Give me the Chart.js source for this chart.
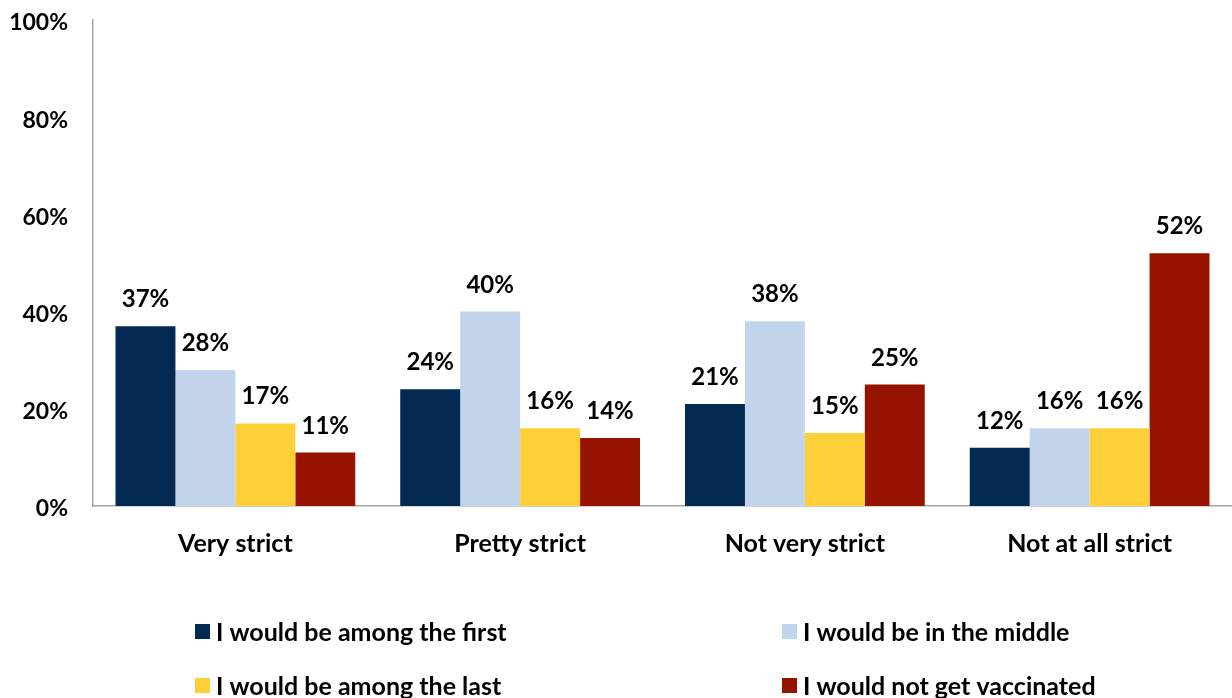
<!DOCTYPE html>
<html>
<head>
<meta charset="utf-8">
<title>Vaccination intent by strictness</title>
<script src="https://cdn.jsdelivr.net/npm/chart.js@4/dist/chart.umd.min.js"></script>
<style>
  html, body { margin: 0; padding: 0; background: #fff; }
  #wrap { width: 1232px; height: 698px; position: relative; }
</style>
</head>
<body>
<div id="wrap"><canvas id="chart"></canvas></div>
<script>
// --- data ---
const categories = ['Very strict', 'Pretty strict', 'Not very strict', 'Not at all strict'];
const seriesNames = [
  'I would be among the first',
  'I would be in the middle',
  'I would be among the last',
  'I would not get vaccinated'
];
const amongFirst = [37, 24, 21, 12];
const inMiddle = [28, 40, 38, 16];
const amongLast = [17, 16, 15, 16];
const notVaccinated = [11, 14, 25, 52];
const yTicks = [0, 20, 40, 60, 80, 100];

const colors = ['#022a52', '#c2d4ec', '#fecf36', '#961300'];
const FONT = 'Lato, "Open Sans", sans-serif';

// value labels above each bar
const barLabels = {
  id: 'barLabels',
  afterDatasetsDraw(chart) {
    const ctx = chart.ctx;
    ctx.save();
    ctx.font = 'bold 24px ' + FONT;
    ctx.fillStyle = '#000';
    ctx.textAlign = 'center';
    ctx.textBaseline = 'alphabetic';
    chart.data.datasets.forEach((ds, i) => {
      chart.getDatasetMeta(i).data.forEach((bar, j) => {
        ctx.fillText(ds.data[j] + '%', bar.x, bar.y - 19);
      });
    });
    ctx.restore();
  }
};

// two-column legend under the axis
const gridLegend = {
  id: 'gridLegend',
  afterDraw(chart) {
    const ctx = chart.ctx;
    const cols = [195, 782];
    const rows = [632, 686];
    ctx.save();
    ctx.font = 'bold 25px ' + FONT;
    ctx.textBaseline = 'middle';
    ctx.textAlign = 'left';
    chart.data.datasets.forEach((ds, i) => {
      const x = cols[i % 2];
      const y = rows[Math.floor(i / 2)];
      ctx.fillStyle = ds.backgroundColor;
      ctx.fillRect(x, y - 8, 15, 15);
      ctx.fillStyle = '#000';
      ctx.fillText(ds.label, x + 21, y + 1);
    });
    ctx.restore();
  }
};

new Chart(document.getElementById('chart'), {
  type: 'bar',
  data: {
    labels: categories,
    datasets: [amongFirst, inMiddle, amongLast, notVaccinated].map((d, i) => ({
      label: seriesNames[i],
      data: d,
      backgroundColor: colors[i],
      borderWidth: 0,
      categoryPercentage: 0.842,
      barPercentage: 1
    }))
  },
  options: {
    responsive: true,
    maintainAspectRatio: false,
    animation: false,
    layout: { padding: { top: 20, right: 0, bottom: 132, left: 0 } },
    plugins: {
      legend: { display: false },
      tooltip: { enabled: false }
    },
    scales: {
      x: {
        grid: { display: false, drawTicks: false },
        border: { display: true, color: '#a6a6a6', width: 1.5 },
        ticks: {
          color: '#000',
          padding: 23,
          font: { family: FONT, size: 25, weight: 'bold' }
        },
        afterFit(scale) { scale.height = 60; }
      },
      y: {
        min: 0,
        max: 100,
        grid: { display: false, drawTicks: false },
        border: { display: true, color: '#a6a6a6', width: 1.5 },
        afterBuildTicks(scale) { scale.ticks = yTicks.map(v => ({ value: v })); },
        ticks: {
          color: '#000',
          padding: 25,
          labelOffset: 3,
          font: { family: FONT, size: 23, weight: 'bold' },
          callback: v => v + '%'
        },
        afterFit(scale) {
          scale.width = 93;
          scale.paddingTop = 0;
          scale.paddingBottom = 0;
        }
      }
    }
  },
  plugins: [barLabels, gridLegend]
});
</script>
</body>
</html>
